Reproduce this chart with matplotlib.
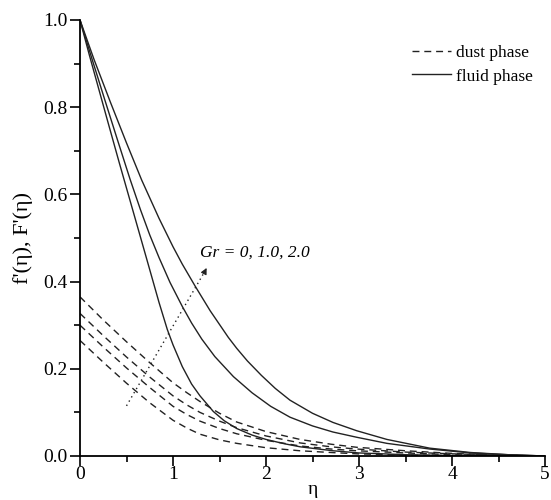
import matplotlib
matplotlib.use("Agg")
import matplotlib.pyplot as plt
from matplotlib.lines import Line2D
from matplotlib.ticker import MultipleLocator

plt.rcParams['font.family'] = ['Liberation Serif', 'DejaVu Serif']

# ---- fluid phase F'(eta) : Gr = 0, 1.0, 2.0 ----
eta_fluid_gr0 = [0, 0.1, 0.2, 0.3, 0.423, 0.55, 0.717, 0.85, 0.939, 1.0, 1.1, 1.2, 1.29, 1.434,
                 1.55, 1.685, 1.85, 2.0, 2.2, 2.37, 2.72, 3.0, 3.5, 4.0, 4.5, 5.0]
fluid_gr0 = [1.0, 0.92, 0.843, 0.766, 0.672, 0.577, 0.452, 0.352, 0.29, 0.255, 0.205, 0.165, 0.138, 0.102,
             0.081, 0.063, 0.048, 0.038, 0.028, 0.021, 0.012, 0.007, 0.003, 0.001, 0.0003, 0.0]

eta_fluid_gr1 = [0, 0.13, 0.265, 0.4, 0.538, 0.65, 0.75, 0.85, 0.968, 1.1, 1.2, 1.31, 1.45, 1.65,
                 1.85, 2.05, 2.258, 2.5, 2.72, 2.975, 3.3, 3.76, 4.2, 4.6, 5.0]
fluid_gr1 = [1.0, 0.91, 0.818, 0.727, 0.635, 0.565, 0.507, 0.455, 0.398, 0.343, 0.305, 0.268, 0.228, 0.182,
             0.145, 0.114, 0.089, 0.069, 0.055, 0.043, 0.029, 0.016, 0.007, 0.003, 0.0]

eta_fluid_gr2 = [0, 0.15, 0.326, 0.5, 0.663, 0.85, 1.0, 1.1, 1.237, 1.4, 1.595, 1.685, 1.8, 1.95,
                 2.1, 2.258, 2.5, 2.72, 2.975, 3.3, 3.76, 4.2, 4.6, 5.0]
fluid_gr2 = [1.0, 0.91, 0.812, 0.718, 0.633, 0.545, 0.48, 0.44, 0.39, 0.333, 0.272, 0.247, 0.218, 0.185,
             0.155, 0.128, 0.098, 0.077, 0.058, 0.038, 0.018, 0.008, 0.003, 0.0]

# ---- dust phase f'(eta) ----
eta_dust = [0, 0.25, 0.5, 0.75, 1.0, 1.15, 1.29, 1.5, 1.685, 2.0, 2.366, 2.7, 2.975, 3.5, 4.0, 4.5, 5.0]
dust_1 = [0.365, 0.312, 0.262, 0.214, 0.168, 0.145, 0.125, 0.098, 0.078, 0.056, 0.038, 0.027, 0.02, 0.012, 0.006, 0.002, 0.0]
dust_2 = [0.327, 0.276, 0.227, 0.181, 0.138, 0.117, 0.1, 0.08, 0.065, 0.046, 0.03, 0.021, 0.016, 0.009, 0.005, 0.002, 0.0]
dust_3 = [0.30, 0.25, 0.202, 0.157, 0.114, 0.095, 0.08, 0.063, 0.051, 0.036, 0.023, 0.016, 0.012, 0.007, 0.003, 0.001, 0.0]
dust_4 = [0.265, 0.215, 0.167, 0.122, 0.082, 0.064, 0.05, 0.037, 0.029, 0.019, 0.012, 0.008, 0.005, 0.002, 0.001, 0.0, 0.0]

x_ticks = [0, 1, 2, 3, 4, 5]
y_ticks = [0.0, 0.2, 0.4, 0.6, 0.8, 1.0]
y_tick_labels = ['0.0', '0.2', '0.4', '0.6', '0.8', '1.0']

fig = plt.figure(figsize=(5.51, 5.00), dpi=100)
ax = fig.add_axes([80 / 551, 44 / 500, 465 / 551, 436 / 500])

lc = '#222222'
for e, v in [(eta_fluid_gr0, fluid_gr0), (eta_fluid_gr1, fluid_gr1), (eta_fluid_gr2, fluid_gr2)]:
    ax.plot(e, v, color=lc, lw=1.0, solid_joinstyle='round')
for v in [dust_1, dust_2, dust_3, dust_4]:
    ax.plot(eta_dust, v, color=lc, lw=1.0, dashes=(5, 3.5))

# dotted arrow with label
ax.plot([0.5, 1.36], [0.115, 0.43], color=lc, lw=1.0, linestyle=(0, (1, 2.5)))
ax.annotate('', xy=(1.375, 0.437), xytext=(1.33, 0.418),
            arrowprops=dict(arrowstyle='-|>', color=lc, lw=0.8, mutation_scale=9))
ax.text(1.29, 0.466, 'Gr = 0, 1.0, 2.0', fontsize=12.5, style='italic', va='center', ha='left')

ax.set_xlim(0, 5)
ax.set_ylim(0, 1.0)
ax.set_xticks(x_ticks)
ax.set_yticks(y_ticks)
ax.set_yticklabels(y_tick_labels)
ax.xaxis.set_minor_locator(MultipleLocator(0.5))
ax.yaxis.set_minor_locator(MultipleLocator(0.1))
ax.tick_params(which='major', direction='out', length=7, width=1.2, labelsize=14, pad=2)
ax.tick_params(axis='x', which='major', pad=0.5)
ax.tick_params(which='minor', direction='out', length=4, width=1.2)
for s in ['top', 'right']:
    ax.spines[s].set_visible(False)
for s in ['left', 'bottom']:
    ax.spines[s].set_linewidth(1.3)
    ax.spines[s].set_clip_on(False)

ax.set_xlabel('η', fontsize=14)
ax.xaxis.set_label_coords(0.5, -0.058)
ax.set_ylabel("f'(η), F'(η)", fontsize=16, labelpad=7)

handles = [Line2D([], [], color=lc, lw=1.0, dashes=(5, 3.5)),
           Line2D([], [], color=lc, lw=1.0)]
ax.legend(handles, ['dust phase', 'fluid phase'], loc='upper left',
          bbox_to_anchor=(0.713, 0.942), frameon=False, fontsize=12.5,
          handlelength=2.3, handletextpad=0.25, labelspacing=0.4,
          borderpad=0, borderaxespad=0)

fig.savefig('out.png', dpi=100)
